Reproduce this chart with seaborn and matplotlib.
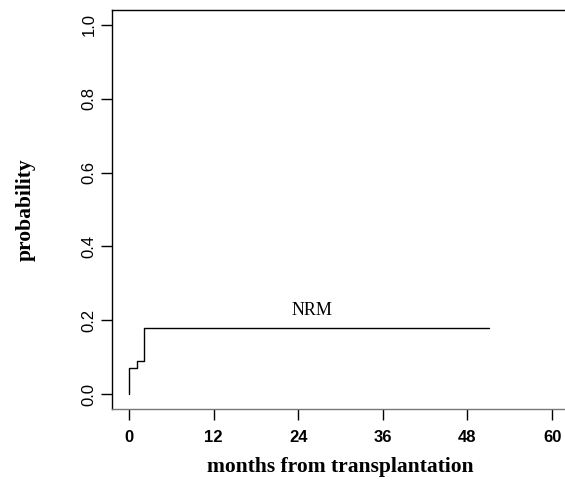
import pandas as pd
import seaborn as sns
import matplotlib.pyplot as plt

# step curve
months = [0, 0, 1.1, 2.1, 51]
prob = [0, 0.07, 0.09, 0.18, 0.18]
x_ticks = [0, 12, 24, 36, 48, 60]
y_ticks = [0.0, 0.2, 0.4, 0.6, 0.8, 1.0]

df = pd.DataFrame({"months": months, "prob": prob})

sns.set_style("white")
fig = plt.figure(figsize=(5.65, 4.84), dpi=100)
ax = fig.add_axes([0.1982, 0.155, 0.809, 0.824])

sns.lineplot(data=df, x="months", y="prob", drawstyle="steps-post",
             estimator=None, sort=False, color="black", linewidth=1, ax=ax)

ax.set_xlim(-2.4, 62.4)
ax.set_ylim(-0.04, 1.04)
ax.set_xticks(x_ticks)
ax.set_yticks(y_ticks)
ax.set_xticklabels([str(t) for t in x_ticks], family="Liberation Sans",
                   weight="bold", fontsize=12, color="black")
ax.set_yticklabels([f"{t:.1f}" for t in y_ticks], family="Liberation Sans",
                   fontsize=12, rotation=90, va="center", color="black")
ax.tick_params(axis="x", bottom=True, direction="out", length=8, width=1,
               pad=7, color="black")
ax.tick_params(axis="y", left=True, direction="out", length=8, width=1,
               pad=3, color="black")

for side in ["left", "top", "bottom"]:
    ax.spines[side].set_visible(True)
    ax.spines[side].set_color("black")
    ax.spines[side].set_linewidth(1)
ax.spines["bottom"].set_color("#777777")
ax.spines["right"].set_visible(False)

ax.set_xlabel("months from transplantation", family="Liberation Serif",
              weight="bold", fontsize=15.5, labelpad=9, color="black")
ax.set_ylabel("probability", family="Liberation Serif", weight="bold",
              fontsize=15.5, labelpad=33, color="black")

ax.text(26, 0.227, "NRM", family="Liberation Serif", fontsize=13,
        ha="center", va="center", color="black")

fig.savefig("out.png", dpi=100)
